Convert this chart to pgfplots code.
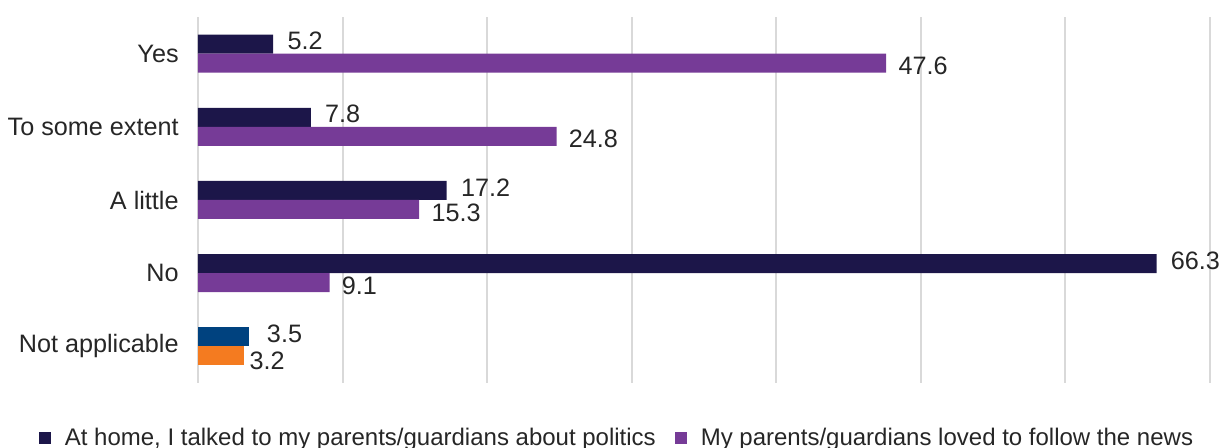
\documentclass[border=0pt]{standalone}
\usepackage{pgfplots}
\pgfplotsset{compat=1.18}
\usepackage{fontspec}
\setmainfont{Liberation Sans}
\definecolor{navy}{HTML}{1C1649}
\definecolor{purp}{HTML}{763B97}
\definecolor{nablue}{HTML}{00427F}
\definecolor{naorange}{HTML}{F47B20}
\definecolor{txt}{HTML}{262626}
\definecolor{gridc}{HTML}{D9D9D9}
\begin{document}
\begin{tikzpicture}
\useasboundingbox (-99pt,-32.5pt) rectangle (513pt,191.5pt);
\begin{axis}[
  at={(0,0)}, anchor=south west,
  scale only axis, width=506pt, height=183pt,
  xbar, bar width=9.5pt,
  xmin=0, xmax=70, ymin=-0.5, ymax=4.5,
  xtick={0,10,...,70}, xticklabels={},
  ytick={0,1,2,3,4},
  yticklabels={Not applicable,No,A little,To some extent,Yes},
  major tick length=0pt,
  xmajorgrids, grid style={gridc, line width=1pt},
  axis line style={draw=none},
  yticklabel style={inner sep=0pt, xshift=-9.5pt, text=txt, font=\fontsize{12.6}{14}\selectfont},
  /pgf/number format/fixed, /pgf/number format/precision=1, /pgf/number format/fixed zerofill,
  /pgf/number format/assume math mode=true,
  nodes near coords,
  nodes near coords style={anchor=west, inner sep=0pt, text=txt, font=\fontsize{12.6}{14}\selectfont},
  legend style={at={(0.415,-0.15)}, anchor=center, draw=none, fill=none,
    legend columns=2, font=\fontsize{12}{14}\selectfont, text=txt,
    /tikz/every odd column/.append style={column sep=5pt},
    /tikz/every even column/.append style={column sep=7.5pt}},
  legend image code/.code={\fill[#1] (0pt,-3pt) rectangle (6pt,3pt);},
]
\addplot[fill=navy, draw=none, bar shift=4.75pt,
  nodes near coords style={xshift=7pt, yshift=1.5pt}]
  coordinates {(5.2,4) (7.8,3) (17.2,2) (66.3,1)};
\addlegendentry{At home, I talked to my parents/guardians about politics}
\addplot[fill=purp, draw=none, bar shift=-4.75pt,
  nodes near coords style={xshift=6pt, yshift=-1.5pt}]
  coordinates {(47.6,4) (24.8,3) (15.3,2) (9.1,1)};
\addlegendentry{My parents/guardians loved to follow the news}
\addplot[fill=nablue, draw=none, bar shift=4.75pt, forget plot,
  nodes near coords style={xshift=9pt, yshift=1.5pt}]
  coordinates {(3.5,0)};
\addplot[fill=naorange, draw=none, bar shift=-4.75pt, forget plot,
  nodes near coords style={xshift=2.5pt, yshift=-2.5pt}]
  coordinates {(3.2,0)};
\end{axis}
\end{tikzpicture}
\end{document}
